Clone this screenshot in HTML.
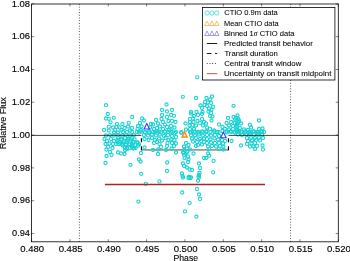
<!DOCTYPE html><html><head><meta charset="utf-8"><style>html,body{margin:0;padding:0;background:#fff;overflow:hidden}svg{display:block;will-change:transform}</style></head><body>
<svg width="350" height="261" viewBox="0 0 350 261">
<rect width="350" height="261" fill="#fff"/>
<path d="M141.4 149.95H228.4" stroke="#3a3a3a" stroke-width="0.9" fill="none"/>
<g fill="none" stroke="#1cd2d4" stroke-width="1.1">
<circle cx="106.0" cy="105.2" r="1.6"/>
<circle cx="107.8" cy="114.0" r="1.6"/>
<circle cx="105.8" cy="118.5" r="1.6"/>
<circle cx="108.8" cy="118.8" r="1.6"/>
<circle cx="113.8" cy="117.8" r="1.6"/>
<circle cx="132.2" cy="117.0" r="1.6"/>
<circle cx="110.5" cy="122.3" r="1.6"/>
<circle cx="117.0" cy="123.8" r="1.6"/>
<circle cx="122.5" cy="124.0" r="1.6"/>
<circle cx="128.7" cy="122.8" r="1.6"/>
<circle cx="104.0" cy="130.0" r="1.6"/>
<circle cx="108.8" cy="126.8" r="1.6"/>
<circle cx="108.8" cy="130.5" r="1.6"/>
<circle cx="113.0" cy="127.5" r="1.6"/>
<circle cx="115.0" cy="130.0" r="1.6"/>
<circle cx="116.5" cy="127.0" r="1.6"/>
<circle cx="119.5" cy="127.5" r="1.6"/>
<circle cx="121.5" cy="130.0" r="1.6"/>
<circle cx="124.5" cy="128.0" r="1.6"/>
<circle cx="128.0" cy="126.5" r="1.6"/>
<circle cx="132.0" cy="128.0" r="1.6"/>
<circle cx="130.0" cy="130.5" r="1.6"/>
<circle cx="114.0" cy="132.5" r="1.6"/>
<circle cx="118.0" cy="132.5" r="1.6"/>
<circle cx="123.0" cy="132.0" r="1.6"/>
<circle cx="127.0" cy="132.0" r="1.6"/>
<circle cx="132.0" cy="132.0" r="1.6"/>
<circle cx="106.0" cy="135.5" r="1.6"/>
<circle cx="110.0" cy="135.2" r="1.6"/>
<circle cx="114.0" cy="135.5" r="1.6"/>
<circle cx="118.0" cy="135.2" r="1.6"/>
<circle cx="122.0" cy="135.5" r="1.6"/>
<circle cx="126.0" cy="135.2" r="1.6"/>
<circle cx="130.0" cy="135.5" r="1.6"/>
<circle cx="134.0" cy="135.2" r="1.6"/>
<circle cx="104.5" cy="139.0" r="1.6"/>
<circle cx="107.0" cy="141.0" r="1.6"/>
<circle cx="111.0" cy="139.0" r="1.6"/>
<circle cx="114.0" cy="141.0" r="1.6"/>
<circle cx="117.5" cy="140.0" r="1.6"/>
<circle cx="121.0" cy="139.5" r="1.6"/>
<circle cx="124.0" cy="141.0" r="1.6"/>
<circle cx="127.5" cy="140.0" r="1.6"/>
<circle cx="131.0" cy="139.5" r="1.6"/>
<circle cx="133.5" cy="142.0" r="1.6"/>
<circle cx="105.5" cy="144.0" r="1.6"/>
<circle cx="109.5" cy="143.5" r="1.6"/>
<circle cx="113.0" cy="144.0" r="1.6"/>
<circle cx="116.0" cy="144.0" r="1.6"/>
<circle cx="120.0" cy="143.5" r="1.6"/>
<circle cx="122.5" cy="145.5" r="1.6"/>
<circle cx="126.0" cy="145.0" r="1.6"/>
<circle cx="129.5" cy="144.0" r="1.6"/>
<circle cx="132.5" cy="146.0" r="1.6"/>
<circle cx="108.0" cy="147.0" r="1.6"/>
<circle cx="112.5" cy="148.0" r="1.6"/>
<circle cx="106.5" cy="149.5" r="1.6"/>
<circle cx="127.0" cy="148.0" r="1.6"/>
<circle cx="130.0" cy="148.0" r="1.6"/>
<circle cx="134.0" cy="148.0" r="1.6"/>
<circle cx="125.0" cy="150.0" r="1.6"/>
<circle cx="110.0" cy="152.0" r="1.6"/>
<circle cx="118.0" cy="152.5" r="1.6"/>
<circle cx="121.0" cy="153.5" r="1.6"/>
<circle cx="124.5" cy="154.0" r="1.6"/>
<circle cx="111.5" cy="155.0" r="1.6"/>
<circle cx="106.5" cy="156.0" r="1.6"/>
<circle cx="105.5" cy="163.0" r="1.6"/>
<circle cx="130.5" cy="164.8" r="1.6"/>
<circle cx="145.8" cy="183.8" r="1.6"/>
<circle cx="159.4" cy="181.4" r="1.6"/>
<circle cx="138.4" cy="201.6" r="1.6"/>
<circle cx="166.5" cy="104.5" r="1.6"/>
<circle cx="162.0" cy="110.0" r="1.6"/>
<circle cx="167.0" cy="111.5" r="1.6"/>
<circle cx="162.0" cy="115.0" r="1.6"/>
<circle cx="167.0" cy="117.0" r="1.6"/>
<circle cx="142.0" cy="118.5" r="1.6"/>
<circle cx="144.0" cy="120.5" r="1.6"/>
<circle cx="156.0" cy="120.0" r="1.6"/>
<circle cx="161.5" cy="119.0" r="1.6"/>
<circle cx="140.0" cy="123.0" r="1.6"/>
<circle cx="151.0" cy="124.0" r="1.6"/>
<circle cx="153.0" cy="124.5" r="1.6"/>
<circle cx="158.0" cy="123.5" r="1.6"/>
<circle cx="163.0" cy="122.0" r="1.6"/>
<circle cx="165.0" cy="124.5" r="1.6"/>
<circle cx="168.5" cy="121.0" r="1.6"/>
<circle cx="138.0" cy="126.0" r="1.6"/>
<circle cx="141.5" cy="126.5" r="1.6"/>
<circle cx="137.5" cy="129.0" r="1.6"/>
<circle cx="141.0" cy="130.0" r="1.6"/>
<circle cx="150.0" cy="127.5" r="1.6"/>
<circle cx="154.0" cy="129.0" r="1.6"/>
<circle cx="157.0" cy="128.0" r="1.6"/>
<circle cx="160.0" cy="126.5" r="1.6"/>
<circle cx="163.0" cy="129.0" r="1.6"/>
<circle cx="167.0" cy="127.0" r="1.6"/>
<circle cx="169.0" cy="130.0" r="1.6"/>
<circle cx="145.0" cy="132.0" r="1.6"/>
<circle cx="149.0" cy="132.5" r="1.6"/>
<circle cx="155.0" cy="132.0" r="1.6"/>
<circle cx="159.0" cy="131.5" r="1.6"/>
<circle cx="165.0" cy="132.0" r="1.6"/>
<circle cx="139.0" cy="132.5" r="1.6"/>
<circle cx="137.0" cy="132.0" r="1.6"/>
<circle cx="141.0" cy="131.5" r="1.6"/>
<circle cx="145.0" cy="132.5" r="1.6"/>
<circle cx="149.0" cy="131.5" r="1.6"/>
<circle cx="153.0" cy="132.0" r="1.6"/>
<circle cx="157.0" cy="131.5" r="1.6"/>
<circle cx="161.0" cy="132.5" r="1.6"/>
<circle cx="165.0" cy="131.5" r="1.6"/>
<circle cx="168.5" cy="132.0" r="1.6"/>
<circle cx="144.0" cy="135.0" r="1.6"/>
<circle cx="148.0" cy="135.5" r="1.6"/>
<circle cx="152.0" cy="134.5" r="1.6"/>
<circle cx="156.0" cy="135.5" r="1.6"/>
<circle cx="160.0" cy="134.5" r="1.6"/>
<circle cx="164.0" cy="136.0" r="1.6"/>
<circle cx="168.0" cy="135.0" r="1.6"/>
<circle cx="144.5" cy="139.0" r="1.6"/>
<circle cx="148.5" cy="140.0" r="1.6"/>
<circle cx="152.0" cy="138.0" r="1.6"/>
<circle cx="155.0" cy="140.0" r="1.6"/>
<circle cx="159.0" cy="138.5" r="1.6"/>
<circle cx="162.0" cy="140.5" r="1.6"/>
<circle cx="165.5" cy="138.0" r="1.6"/>
<circle cx="168.5" cy="140.0" r="1.6"/>
<circle cx="137.5" cy="142.5" r="1.6"/>
<circle cx="139.0" cy="144.5" r="1.6"/>
<circle cx="154.0" cy="143.0" r="1.6"/>
<circle cx="157.0" cy="142.0" r="1.6"/>
<circle cx="159.5" cy="144.0" r="1.6"/>
<circle cx="167.5" cy="143.0" r="1.6"/>
<circle cx="135.5" cy="148.0" r="1.6"/>
<circle cx="144.5" cy="147.5" r="1.6"/>
<circle cx="161.0" cy="147.0" r="1.6"/>
<circle cx="167.0" cy="146.0" r="1.6"/>
<circle cx="153.0" cy="150.0" r="1.6"/>
<circle cx="158.0" cy="149.5" r="1.6"/>
<circle cx="166.0" cy="150.0" r="1.6"/>
<circle cx="141.0" cy="153.0" r="1.6"/>
<circle cx="158.0" cy="154.0" r="1.6"/>
<circle cx="139.0" cy="159.5" r="1.6"/>
<circle cx="140.5" cy="161.5" r="1.6"/>
<circle cx="167.2" cy="162.5" r="1.6"/>
<circle cx="167.0" cy="171.0" r="1.6"/>
<circle cx="141.2" cy="173.8" r="1.6"/>
<circle cx="182.8" cy="96.8" r="1.6"/>
<circle cx="172.0" cy="110.0" r="1.6"/>
<circle cx="191.0" cy="111.8" r="1.6"/>
<circle cx="171.0" cy="115.0" r="1.6"/>
<circle cx="174.0" cy="115.8" r="1.6"/>
<circle cx="172.0" cy="121.0" r="1.6"/>
<circle cx="175.5" cy="122.0" r="1.6"/>
<circle cx="171.0" cy="126.0" r="1.6"/>
<circle cx="174.5" cy="127.5" r="1.6"/>
<circle cx="171.5" cy="130.5" r="1.6"/>
<circle cx="176.0" cy="132.0" r="1.6"/>
<circle cx="185.5" cy="123.5" r="1.6"/>
<circle cx="186.0" cy="129.5" r="1.6"/>
<circle cx="181.5" cy="132.5" r="1.6"/>
<circle cx="191.0" cy="113.5" r="1.6"/>
<circle cx="194.0" cy="116.0" r="1.6"/>
<circle cx="190.0" cy="119.0" r="1.6"/>
<circle cx="193.0" cy="118.5" r="1.6"/>
<circle cx="202.0" cy="119.0" r="1.6"/>
<circle cx="190.0" cy="122.0" r="1.6"/>
<circle cx="193.5" cy="122.0" r="1.6"/>
<circle cx="197.5" cy="121.0" r="1.6"/>
<circle cx="200.0" cy="123.0" r="1.6"/>
<circle cx="204.0" cy="122.0" r="1.6"/>
<circle cx="189.5" cy="125.5" r="1.6"/>
<circle cx="192.5" cy="125.0" r="1.6"/>
<circle cx="196.0" cy="125.5" r="1.6"/>
<circle cx="203.0" cy="125.5" r="1.6"/>
<circle cx="190.0" cy="129.0" r="1.6"/>
<circle cx="194.0" cy="129.0" r="1.6"/>
<circle cx="191.0" cy="132.5" r="1.6"/>
<circle cx="195.0" cy="132.0" r="1.6"/>
<circle cx="199.0" cy="132.5" r="1.6"/>
<circle cx="203.0" cy="132.0" r="1.6"/>
<circle cx="171.5" cy="132.0" r="1.6"/>
<circle cx="175.0" cy="133.0" r="1.6"/>
<circle cx="172.0" cy="136.0" r="1.6"/>
<circle cx="176.0" cy="137.0" r="1.6"/>
<circle cx="171.0" cy="139.5" r="1.6"/>
<circle cx="174.5" cy="140.0" r="1.6"/>
<circle cx="172.0" cy="143.0" r="1.6"/>
<circle cx="176.0" cy="143.5" r="1.6"/>
<circle cx="174.0" cy="146.0" r="1.6"/>
<circle cx="171.5" cy="148.5" r="1.6"/>
<circle cx="176.0" cy="152.5" r="1.6"/>
<circle cx="181.0" cy="132.5" r="1.6"/>
<circle cx="186.0" cy="143.0" r="1.6"/>
<circle cx="188.5" cy="145.0" r="1.6"/>
<circle cx="184.0" cy="146.5" r="1.6"/>
<circle cx="187.0" cy="148.5" r="1.6"/>
<circle cx="184.0" cy="150.0" r="1.6"/>
<circle cx="190.0" cy="149.5" r="1.6"/>
<circle cx="183.0" cy="152.5" r="1.6"/>
<circle cx="186.0" cy="153.5" r="1.6"/>
<circle cx="193.5" cy="153.5" r="1.6"/>
<circle cx="190.0" cy="132.0" r="1.6"/>
<circle cx="194.0" cy="131.5" r="1.6"/>
<circle cx="198.0" cy="132.0" r="1.6"/>
<circle cx="202.0" cy="131.5" r="1.6"/>
<circle cx="191.0" cy="135.0" r="1.6"/>
<circle cx="195.0" cy="135.5" r="1.6"/>
<circle cx="199.0" cy="134.5" r="1.6"/>
<circle cx="203.0" cy="135.5" r="1.6"/>
<circle cx="192.0" cy="138.5" r="1.6"/>
<circle cx="196.0" cy="138.0" r="1.6"/>
<circle cx="200.0" cy="139.0" r="1.6"/>
<circle cx="204.0" cy="138.5" r="1.6"/>
<circle cx="193.0" cy="141.5" r="1.6"/>
<circle cx="197.0" cy="142.0" r="1.6"/>
<circle cx="201.0" cy="141.0" r="1.6"/>
<circle cx="204.0" cy="142.0" r="1.6"/>
<circle cx="198.0" cy="145.0" r="1.6"/>
<circle cx="202.0" cy="144.5" r="1.6"/>
<circle cx="196.0" cy="146.0" r="1.6"/>
<circle cx="183.5" cy="153.0" r="1.6"/>
<circle cx="187.0" cy="152.0" r="1.6"/>
<circle cx="184.0" cy="155.0" r="1.6"/>
<circle cx="184.5" cy="158.0" r="1.6"/>
<circle cx="188.0" cy="156.5" r="1.6"/>
<circle cx="188.5" cy="159.5" r="1.6"/>
<circle cx="188.0" cy="162.0" r="1.6"/>
<circle cx="204.0" cy="158.0" r="1.6"/>
<circle cx="183.0" cy="163.5" r="1.6"/>
<circle cx="184.0" cy="166.0" r="1.6"/>
<circle cx="187.0" cy="167.5" r="1.6"/>
<circle cx="189.5" cy="169.5" r="1.6"/>
<circle cx="192.0" cy="170.0" r="1.6"/>
<circle cx="199.0" cy="163.5" r="1.6"/>
<circle cx="200.0" cy="168.0" r="1.6"/>
<circle cx="199.5" cy="173.0" r="1.6"/>
<circle cx="182.0" cy="173.5" r="1.6"/>
<circle cx="182.5" cy="176.0" r="1.6"/>
<circle cx="189.0" cy="177.0" r="1.6"/>
<circle cx="191.0" cy="177.5" r="1.6"/>
<circle cx="198.5" cy="176.5" r="1.6"/>
<circle cx="183.0" cy="177.5" r="1.6"/>
<circle cx="188.5" cy="178.0" r="1.6"/>
<circle cx="190.5" cy="178.0" r="1.6"/>
<circle cx="199.0" cy="175.0" r="1.6"/>
<circle cx="199.0" cy="177.5" r="1.6"/>
<circle cx="198.0" cy="180.8" r="1.6"/>
<circle cx="197.0" cy="189.0" r="1.6"/>
<circle cx="182.2" cy="192.5" r="1.6"/>
<circle cx="199.0" cy="194.5" r="1.6"/>
<circle cx="200.0" cy="199.0" r="1.6"/>
<circle cx="189.7" cy="203.1" r="1.6"/>
<circle cx="185.0" cy="211.4" r="1.6"/>
<circle cx="196.4" cy="216.7" r="1.6"/>
<circle cx="233.5" cy="105.8" r="1.6"/>
<circle cx="211.5" cy="120.5" r="1.6"/>
<circle cx="206.0" cy="123.5" r="1.6"/>
<circle cx="207.0" cy="127.5" r="1.6"/>
<circle cx="210.0" cy="129.0" r="1.6"/>
<circle cx="206.0" cy="131.5" r="1.6"/>
<circle cx="214.0" cy="130.5" r="1.6"/>
<circle cx="217.0" cy="132.0" r="1.6"/>
<circle cx="219.0" cy="124.5" r="1.6"/>
<circle cx="222.5" cy="127.0" r="1.6"/>
<circle cx="226.5" cy="123.0" r="1.6"/>
<circle cx="228.0" cy="118.0" r="1.6"/>
<circle cx="233.5" cy="117.0" r="1.6"/>
<circle cx="237.5" cy="115.5" r="1.6"/>
<circle cx="235.0" cy="119.5" r="1.6"/>
<circle cx="238.0" cy="118.5" r="1.6"/>
<circle cx="231.0" cy="122.0" r="1.6"/>
<circle cx="235.0" cy="123.0" r="1.6"/>
<circle cx="238.5" cy="122.0" r="1.6"/>
<circle cx="229.0" cy="125.5" r="1.6"/>
<circle cx="233.0" cy="126.0" r="1.6"/>
<circle cx="237.0" cy="125.5" r="1.6"/>
<circle cx="225.0" cy="129.0" r="1.6"/>
<circle cx="229.0" cy="129.5" r="1.6"/>
<circle cx="233.0" cy="129.0" r="1.6"/>
<circle cx="237.0" cy="129.5" r="1.6"/>
<circle cx="227.0" cy="132.5" r="1.6"/>
<circle cx="231.0" cy="132.0" r="1.6"/>
<circle cx="235.0" cy="132.5" r="1.6"/>
<circle cx="239.0" cy="132.0" r="1.6"/>
<circle cx="206.5" cy="131.5" r="1.6"/>
<circle cx="210.5" cy="132.0" r="1.6"/>
<circle cx="214.5" cy="131.5" r="1.6"/>
<circle cx="218.5" cy="132.0" r="1.6"/>
<circle cx="222.5" cy="131.0" r="1.6"/>
<circle cx="226.5" cy="131.5" r="1.6"/>
<circle cx="230.5" cy="131.5" r="1.6"/>
<circle cx="234.0" cy="132.0" r="1.6"/>
<circle cx="238.0" cy="131.5" r="1.6"/>
<circle cx="207.0" cy="135.0" r="1.6"/>
<circle cx="211.0" cy="135.5" r="1.6"/>
<circle cx="215.0" cy="135.0" r="1.6"/>
<circle cx="219.0" cy="136.0" r="1.6"/>
<circle cx="207.0" cy="139.0" r="1.6"/>
<circle cx="210.5" cy="139.5" r="1.6"/>
<circle cx="214.5" cy="138.5" r="1.6"/>
<circle cx="218.0" cy="139.5" r="1.6"/>
<circle cx="222.0" cy="140.0" r="1.6"/>
<circle cx="225.0" cy="141.0" r="1.6"/>
<circle cx="231.5" cy="141.0" r="1.6"/>
<circle cx="207.0" cy="143.0" r="1.6"/>
<circle cx="211.0" cy="142.5" r="1.6"/>
<circle cx="215.0" cy="143.0" r="1.6"/>
<circle cx="219.0" cy="143.0" r="1.6"/>
<circle cx="223.0" cy="143.5" r="1.6"/>
<circle cx="208.0" cy="146.5" r="1.6"/>
<circle cx="212.0" cy="146.0" r="1.6"/>
<circle cx="216.0" cy="146.5" r="1.6"/>
<circle cx="220.0" cy="146.0" r="1.6"/>
<circle cx="223.5" cy="147.0" r="1.6"/>
<circle cx="209.0" cy="149.0" r="1.6"/>
<circle cx="219.0" cy="149.0" r="1.6"/>
<circle cx="223.5" cy="149.5" r="1.6"/>
<circle cx="208.0" cy="153.5" r="1.6"/>
<circle cx="209.2" cy="155.7" r="1.6"/>
<circle cx="206.3" cy="158.0" r="1.6"/>
<circle cx="213.6" cy="160.9" r="1.6"/>
<circle cx="213.2" cy="172.4" r="1.6"/>
<circle cx="236.0" cy="118.0" r="1.6"/>
<circle cx="239.0" cy="120.5" r="1.6"/>
<circle cx="241.0" cy="123.5" r="1.6"/>
<circle cx="237.0" cy="123.5" r="1.6"/>
<circle cx="259.0" cy="120.5" r="1.6"/>
<circle cx="250.0" cy="125.0" r="1.6"/>
<circle cx="251.0" cy="127.5" r="1.6"/>
<circle cx="237.0" cy="127.0" r="1.6"/>
<circle cx="240.0" cy="128.0" r="1.6"/>
<circle cx="244.0" cy="129.5" r="1.6"/>
<circle cx="248.0" cy="130.0" r="1.6"/>
<circle cx="237.5" cy="130.5" r="1.6"/>
<circle cx="241.0" cy="132.0" r="1.6"/>
<circle cx="245.0" cy="132.5" r="1.6"/>
<circle cx="250.0" cy="132.5" r="1.6"/>
<circle cx="254.0" cy="131.5" r="1.6"/>
<circle cx="259.0" cy="129.0" r="1.6"/>
<circle cx="262.5" cy="128.5" r="1.6"/>
<circle cx="258.0" cy="132.5" r="1.6"/>
<circle cx="262.0" cy="132.0" r="1.6"/>
<circle cx="237.0" cy="131.5" r="1.6"/>
<circle cx="241.0" cy="132.0" r="1.6"/>
<circle cx="245.0" cy="131.5" r="1.6"/>
<circle cx="249.0" cy="132.0" r="1.6"/>
<circle cx="253.0" cy="131.5" r="1.6"/>
<circle cx="257.0" cy="132.0" r="1.6"/>
<circle cx="261.0" cy="131.5" r="1.6"/>
<circle cx="264.0" cy="132.0" r="1.6"/>
<circle cx="238.0" cy="134.5" r="1.6"/>
<circle cx="242.0" cy="135.0" r="1.6"/>
<circle cx="246.0" cy="134.5" r="1.6"/>
<circle cx="250.0" cy="134.0" r="1.6"/>
<circle cx="254.0" cy="134.5" r="1.6"/>
<circle cx="258.0" cy="134.0" r="1.6"/>
<circle cx="262.0" cy="134.5" r="1.6"/>
<circle cx="247.0" cy="138.0" r="1.6"/>
<circle cx="251.0" cy="137.5" r="1.6"/>
<circle cx="255.0" cy="138.0" r="1.6"/>
<circle cx="259.0" cy="137.5" r="1.6"/>
<circle cx="263.0" cy="138.0" r="1.6"/>
<circle cx="248.0" cy="141.0" r="1.6"/>
<circle cx="252.0" cy="140.5" r="1.6"/>
<circle cx="256.0" cy="140.0" r="1.6"/>
<circle cx="260.0" cy="140.5" r="1.6"/>
<circle cx="247.0" cy="144.0" r="1.6"/>
<circle cx="251.5" cy="143.5" r="1.6"/>
<circle cx="255.0" cy="143.0" r="1.6"/>
<circle cx="241.0" cy="145.5" r="1.6"/>
<circle cx="250.0" cy="146.5" r="1.6"/>
<circle cx="253.5" cy="146.5" r="1.6"/>
<circle cx="257.0" cy="146.0" r="1.6"/>
<circle cx="262.5" cy="145.5" r="1.6"/>
<circle cx="255.0" cy="149.0" r="1.6"/>
<circle cx="263.0" cy="149.5" r="1.6"/>
<circle cx="197.3" cy="77.3" r="1.6"/>
<circle cx="118.1" cy="138.1" r="1.6"/>
<circle cx="121.5" cy="139.5" r="1.6"/>
<circle cx="125.0" cy="138.1" r="1.6"/>
<circle cx="128.4" cy="138.8" r="1.6"/>
<circle cx="131.9" cy="138.1" r="1.6"/>
<circle cx="134.6" cy="139.5" r="1.6"/>
<circle cx="117.4" cy="142.3" r="1.6"/>
<circle cx="120.1" cy="141.6" r="1.6"/>
<circle cx="123.6" cy="142.3" r="1.6"/>
<circle cx="127.0" cy="141.6" r="1.6"/>
<circle cx="130.5" cy="141.6" r="1.6"/>
<circle cx="133.2" cy="142.3" r="1.6"/>
<circle cx="118.8" cy="144.3" r="1.6"/>
<circle cx="122.2" cy="144.3" r="1.6"/>
<circle cx="125.7" cy="144.3" r="1.6"/>
<circle cx="129.1" cy="144.3" r="1.6"/>
<circle cx="132.6" cy="144.3" r="1.6"/>
<circle cx="125.0" cy="147.8" r="1.6"/>
<circle cx="127.0" cy="149.2" r="1.6"/>
<circle cx="131.9" cy="147.1" r="1.6"/>
<circle cx="133.2" cy="148.5" r="1.6"/>
<circle cx="137.4" cy="143.0" r="1.6"/>
<circle cx="138.1" cy="145.7" r="1.6"/>
<circle cx="212.0" cy="96.5" r="1.6"/>
<circle cx="206.5" cy="98.0" r="1.6"/>
<circle cx="210.0" cy="99.5" r="1.6"/>
<circle cx="205.0" cy="102.0" r="1.6"/>
<circle cx="208.0" cy="102.5" r="1.6"/>
<circle cx="211.0" cy="103.0" r="1.6"/>
<circle cx="200.5" cy="105.5" r="1.6"/>
<circle cx="204.5" cy="105.0" r="1.6"/>
<circle cx="207.0" cy="106.0" r="1.6"/>
<circle cx="213.0" cy="107.0" r="1.6"/>
<circle cx="202.0" cy="108.0" r="1.6"/>
<circle cx="209.0" cy="108.5" r="1.6"/>
<circle cx="211.5" cy="109.5" r="1.6"/>
<circle cx="202.5" cy="112.0" r="1.6"/>
<circle cx="208.5" cy="111.5" r="1.6"/>
<circle cx="211.0" cy="113.0" r="1.6"/>
<circle cx="210.0" cy="116.0" r="1.6"/>
<circle cx="212.5" cy="116.5" r="1.6"/>
<circle cx="196.5" cy="112.0" r="1.6"/>
<circle cx="196.0" cy="98.0" r="1.6"/>
<circle cx="198.0" cy="115.0" r="1.6"/>
<circle cx="202.0" cy="114.0" r="1.6"/>
</g>
<g stroke="#222" stroke-width="0.85" fill="none">
<path d="M31.6 135.40H141.4M228.4 135.40H338.3"/>
</g>
<path d="M141.4 150.15V135.40M228.4 150.15V135.40" stroke="#000" stroke-width="1.1" stroke-dasharray="3.8 4.2" fill="none"/>
<g stroke="#000" stroke-width="0.8" stroke-dasharray="0.8 1.923" fill="none">
<path d="M79.4 3.97V241.8M290.6 3.97V241.8"/>
</g>
<path d="M104.9 184.4H265" stroke="#b22222" stroke-width="1.5"/>
<path d="M146.80 123.40L149.60 129.00L144.00 129.00Z" fill="none" stroke="#3a3aea" stroke-width="1.10" stroke-linejoin="miter"/>
<path d="M184.60 132.00L187.10 137.00L182.10 137.00Z" fill="none" stroke="#ff8c00" stroke-width="1.50" stroke-linejoin="miter"/>
<path d="M223.40 132.20L226.20 137.80L220.60 137.80Z" fill="none" stroke="#3a3aea" stroke-width="1.10" stroke-linejoin="miter"/>
<rect x="31.6" y="4.0" width="306.7" height="237.8" fill="none" stroke="#000" stroke-width="0.8"/>
<path d="M31.60 241.8v-2.6M31.60 3.8v2.6M69.94 241.8v-2.6M69.94 3.8v2.6M108.28 241.8v-2.6M108.28 3.8v2.6M146.61 241.8v-2.6M146.61 3.8v2.6M184.95 241.8v-2.6M184.95 3.8v2.6M223.29 241.8v-2.6M223.29 3.8v2.6M261.63 241.8v-2.6M261.63 3.8v2.6M299.96 241.8v-2.6M299.96 3.8v2.6M338.30 241.8v-2.6M338.30 3.8v2.6M31.6 233.54h2.6M338.3 233.54h-2.6M31.6 200.72h2.6M338.3 200.72h-2.6M31.6 167.90h2.6M338.3 167.90h-2.6M31.6 135.08h2.6M338.3 135.08h-2.6M31.6 102.26h2.6M338.3 102.26h-2.6M31.6 69.44h2.6M338.3 69.44h-2.6M31.6 36.62h2.6M338.3 36.62h-2.6M31.6 3.80h2.6M338.3 3.80h-2.6" stroke="#000" stroke-width="0.5" fill="none"/>
<text x="20.32" y="251.50" font-family="'Liberation Sans', sans-serif" font-size="8.90" textLength="23.84" lengthAdjust="spacingAndGlyphs" stroke="#000" stroke-width="0.13">0.480</text>
<text x="58.66" y="251.50" font-family="'Liberation Sans', sans-serif" font-size="8.90" textLength="23.89" lengthAdjust="spacingAndGlyphs" stroke="#000" stroke-width="0.13">0.485</text>
<text x="96.99" y="251.50" font-family="'Liberation Sans', sans-serif" font-size="8.90" textLength="23.84" lengthAdjust="spacingAndGlyphs" stroke="#000" stroke-width="0.13">0.490</text>
<text x="135.33" y="251.50" font-family="'Liberation Sans', sans-serif" font-size="8.90" textLength="23.89" lengthAdjust="spacingAndGlyphs" stroke="#000" stroke-width="0.13">0.495</text>
<text x="173.67" y="251.50" font-family="'Liberation Sans', sans-serif" font-size="8.90" textLength="23.84" lengthAdjust="spacingAndGlyphs" stroke="#000" stroke-width="0.13">0.500</text>
<text x="212.01" y="251.50" font-family="'Liberation Sans', sans-serif" font-size="8.90" textLength="23.89" lengthAdjust="spacingAndGlyphs" stroke="#000" stroke-width="0.13">0.505</text>
<text x="250.34" y="251.50" font-family="'Liberation Sans', sans-serif" font-size="8.90" textLength="23.84" lengthAdjust="spacingAndGlyphs" stroke="#000" stroke-width="0.13">0.510</text>
<text x="288.68" y="251.50" font-family="'Liberation Sans', sans-serif" font-size="8.90" textLength="23.89" lengthAdjust="spacingAndGlyphs" stroke="#000" stroke-width="0.13">0.515</text>
<text x="327.02" y="251.50" font-family="'Liberation Sans', sans-serif" font-size="8.90" textLength="23.84" lengthAdjust="spacingAndGlyphs" stroke="#000" stroke-width="0.13">0.520</text>
<text x="12.03" y="236.24" font-family="'Liberation Sans', sans-serif" font-size="8.90" textLength="17.96" lengthAdjust="spacingAndGlyphs" stroke="#000" stroke-width="0.13">0.94</text>
<text x="12.03" y="203.42" font-family="'Liberation Sans', sans-serif" font-size="8.90" textLength="18.05" lengthAdjust="spacingAndGlyphs" stroke="#000" stroke-width="0.13">0.96</text>
<text x="12.03" y="170.60" font-family="'Liberation Sans', sans-serif" font-size="8.90" textLength="18.05" lengthAdjust="spacingAndGlyphs" stroke="#000" stroke-width="0.13">0.98</text>
<text x="11.69" y="137.78" font-family="'Liberation Sans', sans-serif" font-size="8.90" textLength="18.35" lengthAdjust="spacingAndGlyphs" stroke="#000" stroke-width="0.13">1.00</text>
<text x="11.69" y="104.96" font-family="'Liberation Sans', sans-serif" font-size="8.90" textLength="18.50" lengthAdjust="spacingAndGlyphs" stroke="#000" stroke-width="0.13">1.02</text>
<text x="11.69" y="72.14" font-family="'Liberation Sans', sans-serif" font-size="8.90" textLength="18.30" lengthAdjust="spacingAndGlyphs" stroke="#000" stroke-width="0.13">1.04</text>
<text x="11.69" y="39.32" font-family="'Liberation Sans', sans-serif" font-size="8.90" textLength="18.40" lengthAdjust="spacingAndGlyphs" stroke="#000" stroke-width="0.13">1.06</text>
<text x="11.69" y="6.50" font-family="'Liberation Sans', sans-serif" font-size="8.90" textLength="18.40" lengthAdjust="spacingAndGlyphs" stroke="#000" stroke-width="0.13">1.08</text>
<text x="173.40" y="261.10" font-family="'Liberation Sans', sans-serif" font-size="8.60" textLength="24.69" lengthAdjust="spacingAndGlyphs" stroke="#000" stroke-width="0.10">Phase</text>
<g transform="translate(6.3 0) rotate(-90)"><text x="-149.32" y="0.00" font-family="'Liberation Sans', sans-serif" font-size="8.80" textLength="52.21" lengthAdjust="spacingAndGlyphs" stroke="#000" stroke-width="0.10">Relative Flux</text></g>
<rect x="202.4" y="7.5" width="132.5" height="72.5" fill="#fff" stroke="#000" stroke-width="0.8"/>
<text x="224.22" y="15.35" font-family="'Liberation Sans', sans-serif" font-size="7.50" textLength="53.57" lengthAdjust="spacingAndGlyphs" stroke="#000" stroke-width="0.06">CTIO 0.9m data</text>
<text x="224.01" y="25.50" font-family="'Liberation Sans', sans-serif" font-size="7.50" textLength="54.61" lengthAdjust="spacingAndGlyphs" stroke="#000" stroke-width="0.06">Mean CTIO data</text>
<text x="224.00" y="35.65" font-family="'Liberation Sans', sans-serif" font-size="7.50" textLength="70.50" lengthAdjust="spacingAndGlyphs" stroke="#000" stroke-width="0.06">Binned 1<tspan font-family="'Liberation Serif', serif" font-style="italic">σ</tspan> CTIO data</text>
<text x="223.97" y="45.80" font-family="'Liberation Sans', sans-serif" font-size="7.50" textLength="88.78" lengthAdjust="spacingAndGlyphs" stroke="#000" stroke-width="0.06">Predicted transit behavior</text>
<text x="224.45" y="55.95" font-family="'Liberation Sans', sans-serif" font-size="7.50" textLength="53.46" lengthAdjust="spacingAndGlyphs" stroke="#000" stroke-width="0.06">Transit duration</text>
<text x="224.21" y="66.10" font-family="'Liberation Sans', sans-serif" font-size="7.50" textLength="77.17" lengthAdjust="spacingAndGlyphs" stroke="#000" stroke-width="0.06">Central transit window</text>
<text x="224.00" y="76.25" font-family="'Liberation Sans', sans-serif" font-size="7.50" textLength="107.45" lengthAdjust="spacingAndGlyphs" stroke="#000" stroke-width="0.06">Uncertainty on transit midpoint</text>
<circle cx="207.0" cy="13.0" r="2.15" fill="none" stroke="#00ced1" stroke-width="0.6"/>
<circle cx="211.9" cy="13.0" r="2.15" fill="none" stroke="#00ced1" stroke-width="0.6"/>
<circle cx="216.8" cy="13.0" r="2.15" fill="none" stroke="#00ced1" stroke-width="0.6"/>
<path d="M207.00 21.05L209.25 25.55L204.75 25.55Z" fill="none" stroke="#ff8c00" stroke-width="0.55" stroke-linejoin="miter"/>
<path d="M207.00 31.05L209.25 35.55L204.75 35.55Z" fill="none" stroke="#3a3aea" stroke-width="0.50" stroke-linejoin="miter"/>
<path d="M211.90 21.05L214.15 25.55L209.65 25.55Z" fill="none" stroke="#ff8c00" stroke-width="0.55" stroke-linejoin="miter"/>
<path d="M211.90 31.05L214.15 35.55L209.65 35.55Z" fill="none" stroke="#3a3aea" stroke-width="0.50" stroke-linejoin="miter"/>
<path d="M216.80 21.05L219.05 25.55L214.55 25.55Z" fill="none" stroke="#ff8c00" stroke-width="0.55" stroke-linejoin="miter"/>
<path d="M216.80 31.05L219.05 35.55L214.55 35.55Z" fill="none" stroke="#3a3aea" stroke-width="0.50" stroke-linejoin="miter"/>
<path d="M206.8 43.5H217.2" stroke="#000" stroke-width="0.9"/>
<path d="M206.8 53.5H217.2" stroke="#000" stroke-width="0.9" stroke-dasharray="4.7 3.5"/>
<path d="M206.8 63.5H217.2" stroke="#000" stroke-width="0.8" stroke-dasharray="0.9 1.8"/>
<path d="M206.8 73.7H217.2" stroke="#b22222" stroke-width="0.8"/>
</svg></body></html>
